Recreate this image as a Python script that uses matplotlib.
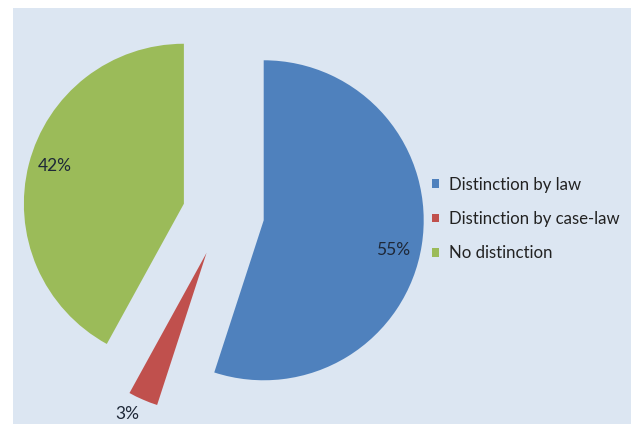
import matplotlib
matplotlib.use("Agg")
import matplotlib.pyplot as plt
from matplotlib.patches import Rectangle
import numpy as np

categories = ["Distinction by law", "Distinction by case-law", "No distinction"]
shares = [55, 3, 42]
colors = ["#4f81bd", "#c0504d", "#9bbb59"]
pct_labels = ["55%", "3%", "42%"]

W, H = 631, 424
fig = plt.figure(figsize=(W / 100, H / 100), dpi=100)
fig.patch.set_facecolor("white")
bg = "#dce6f2"
fig.patches.append(Rectangle((13 / W, 0), (W - 13) / W, (H - 8) / H,
                             transform=fig.transFigure, facecolor=bg,
                             edgecolor="none", zorder=0))

ax = fig.add_axes([0, 0, 1, 1])
ax.set_zorder(2)
ax.set_facecolor("none")

font = "Lato"
explode = [0.255, 0.265, 0.255]
wedges, _ = ax.pie(shares, colors=colors, startangle=90, counterclock=False,
                   explode=explode, radius=1.0, center=(0, 0),
                   wedgeprops=dict(linewidth=0))
ax.set_axis_off()

r_px = 160.0
cx, cy = 223.4, 213.9
ax.set_aspect("auto")
ax.set_xlim(-cx / r_px, (W - cx) / r_px)
ax.set_ylim(-(H - cy) / r_px, cy / r_px)

# percentage labels: inside end for the large slices, outside for the small one
label_dist = [0.83, 1.12, 0.84]
label_turn = [-4.0, -2.8, -2.0]   # degrees, nudged clockwise past the mid-angle
for w, txt, d, turn in zip(wedges, pct_labels, label_dist, label_turn):
    mid = np.deg2rad((w.theta1 + w.theta2) / 2 + turn)
    x0, y0 = w.center
    ax.text(x0 + d * np.cos(mid), y0 + d * np.sin(mid), txt,
            ha="center", va="center", fontsize=12.5, color="#1e2838",
            family=font)

leg = fig.legend(wedges, categories, loc="center left",
                 bbox_to_anchor=(432 / W, 1 - 219 / H), frameon=False,
                 borderaxespad=0, borderpad=0,
                 handlelength=0.44, handleheight=0.44, handletextpad=0.6,
                 labelspacing=1.08, prop=dict(family=font, size=12.1))
leg.set_zorder(3)
for t in leg.get_texts():
    t.set_color("#222222")

fig.savefig("out.png", dpi=100, facecolor=fig.get_facecolor())
